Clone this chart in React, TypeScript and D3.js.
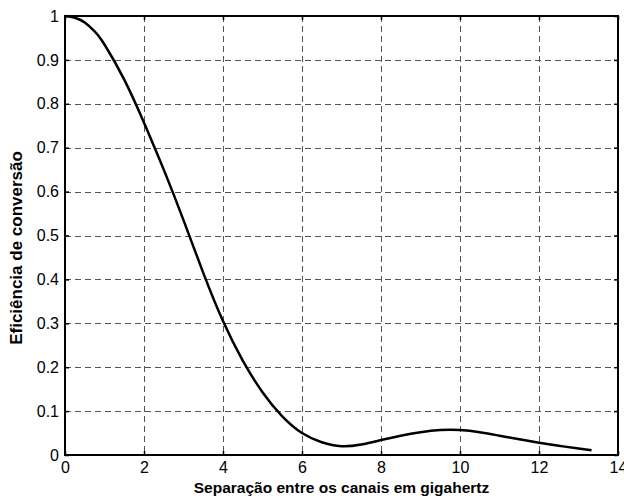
import React, { useEffect, useRef } from "react";
import * as d3 from "d3";

// channel spacing (GHz) and conversion efficiency
const spacing = [0, 0.25, 0.5, 0.75, 1.0, 1.5, 2.0, 2.5, 3.0, 3.5, 4.0, 4.5, 5.0, 5.5, 6.0, 6.5, 7.0, 7.5, 8.0, 8.5, 9.0, 9.5, 10.0, 10.5, 11.0, 11.5, 12.0, 12.5, 13.0, 13.33];
const efficiency = [1, 0.996, 0.985, 0.965, 0.935, 0.855, 0.757, 0.65, 0.535, 0.415, 0.305, 0.215, 0.143, 0.088, 0.05, 0.029, 0.02, 0.024, 0.034, 0.044, 0.052, 0.057, 0.057, 0.052, 0.044, 0.036, 0.028, 0.021, 0.015, 0.011];

const xTicks = [0, 2, 4, 6, 8, 10, 12, 14];
const yTicks = [0, 0.1, 0.2, 0.3, 0.4, 0.5, 0.6, 0.7, 0.8, 0.9, 1];

const xTitle = "Separação entre os canais em gigahertz";
const yTitle = "Eficiência de conversão";

const W = 624;
const H = 500;
const margin = { top: 16, right: 6, bottom: 45, left: 65 };

function EfficiencyChart() {
  const svgRef = useRef<SVGSVGElement>(null);

  useEffect(() => {
    const svg = d3.select(svgRef.current);
    svg.selectAll("*").remove();

    const x = d3.scaleLinear().domain([0, 14]).range([margin.left, W - margin.right]);
    const y = d3.scaleLinear().domain([0, 1]).range([H - margin.bottom, margin.top]);
    const [x0, x1] = x.range();
    const [y0, y1] = y.range();
    const font = "'Liberation Sans', Arial, sans-serif";

    // grid
    const grid = svg.append("g").attr("stroke", "#555").attr("stroke-width", 1).attr("stroke-dasharray", "6,4");
    grid.selectAll(".gx")
      .data(xTicks.slice(1, -1))
      .join("line")
      .attr("x1", d => Math.round(x(d)) + 0.5)
      .attr("x2", d => Math.round(x(d)) + 0.5)
      .attr("y1", y1)
      .attr("y2", y0);
    grid.selectAll(".gy")
      .data(yTicks.slice(1, -1))
      .join("line")
      .attr("y1", d => Math.round(y(d)) + 0.5)
      .attr("y2", d => Math.round(y(d)) + 0.5)
      .attr("x1", x0)
      .attr("x2", x1);

    // axes with inward ticks, mirrored on top/right
    const tk = 4;
    const bottom = svg.append("g")
      .attr("transform", `translate(0,${y0})`)
      .call(d3.axisBottom(x).tickValues(xTicks).tickFormat(d3.format("d")).tickSizeInner(-tk).tickSizeOuter(0).tickPadding(7));
    const top = svg.append("g")
      .attr("transform", `translate(0,${y1})`)
      .call(d3.axisTop(x).tickValues(xTicks).tickFormat(() => "").tickSizeInner(-tk).tickSizeOuter(0));
    const left = svg.append("g")
      .attr("transform", `translate(${x0},0)`)
      .call(d3.axisLeft(y).tickValues(yTicks).tickFormat(d3.format("~g")).tickSizeInner(-tk).tickSizeOuter(0).tickPadding(6));
    const right = svg.append("g")
      .attr("transform", `translate(${x1},0)`)
      .call(d3.axisRight(y).tickValues(yTicks).tickFormat(() => "").tickSizeInner(-tk).tickSizeOuter(0));

    [bottom, top, left, right].forEach(g => {
      g.select(".domain").remove();
      g.selectAll("line").attr("stroke", "#000").attr("stroke-width", 1.5);
      g.selectAll("text").attr("fill", "#000").style("font-family", font).style("font-size", "16px");
    });

    // box
    svg.append("rect")
      .attr("x", x0)
      .attr("y", y1)
      .attr("width", x1 - x0)
      .attr("height", y0 - y1)
      .attr("fill", "none")
      .attr("stroke", "#000")
      .attr("stroke-width", 2);

    // curve
    const pts = spacing.map((s, i) => [s, efficiency[i]] as [number, number]);
    const line = d3.line<[number, number]>()
      .x(d => x(d[0]))
      .y(d => y(d[1]))
      .curve(d3.curveNatural);
    svg.append("path")
      .datum(pts)
      .attr("d", line)
      .attr("fill", "none")
      .attr("stroke", "#000")
      .attr("stroke-width", 2.5);

    // titles
    svg.append("text")
      .attr("x", (x0 + x1) / 2)
      .attr("y", 493)
      .attr("text-anchor", "middle")
      .style("font-family", font)
      .style("font-size", "15.5px")
      .style("font-weight", "bold")
      .text(xTitle);
    svg.append("text")
      .attr("transform", `translate(22,248) rotate(-90)`)
      .attr("text-anchor", "middle")
      .style("font-family", font)
      .style("font-size", "17px")
      .style("font-weight", "bold")
      .text(yTitle);
  }, []);

  return <svg ref={svgRef} width={W} height={H} style={{ position: "absolute", left: 0, top: 0, background: "#fff" }} />;
}

export default function App() {
  return <EfficiencyChart />;
}
